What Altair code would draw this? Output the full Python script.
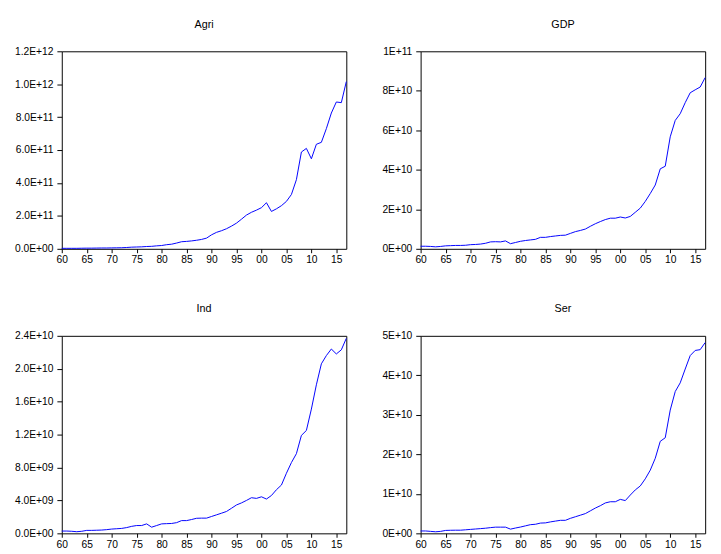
import altair as alt
import pandas as pd

years = list(range(1960, 2018))

# Values (units noted per series)
agri_e11 = [0.03, 0.03, 0.03, 0.03, 0.035, 0.04, 0.04, 0.045, 0.05, 0.05,
            0.055, 0.06, 0.065, 0.08, 0.1, 0.11, 0.12, 0.14, 0.15, 0.18,
            0.2, 0.25, 0.28, 0.35, 0.43, 0.45, 0.48, 0.52, 0.57, 0.65,
            0.85, 1.0, 1.1, 1.22, 1.38, 1.56, 1.8, 2.05, 2.22, 2.35,
            2.5, 2.8, 2.27, 2.43, 2.62, 2.88, 3.3, 4.2, 5.88, 6.1,
            5.47, 6.35, 6.47, 7.3, 8.25, 8.92, 8.88, 10.16]
gdp_e10 = [0.13, 0.13, 0.12, 0.10, 0.12, 0.15, 0.16, 0.17, 0.17, 0.18,
           0.21, 0.22, 0.24, 0.28, 0.35, 0.36, 0.35, 0.40, 0.26, 0.32,
           0.38, 0.42, 0.45, 0.48, 0.58, 0.58, 0.62, 0.65, 0.68, 0.69,
           0.78, 0.87, 0.93, 1.0, 1.14, 1.27, 1.38, 1.48, 1.55, 1.55,
           1.61, 1.56, 1.64, 1.85, 2.06, 2.4, 2.8, 3.23, 4.05, 4.18,
           5.67, 6.5, 6.84, 7.4, 7.9, 8.05, 8.19, 8.67]
ind_e9 = [0.28, 0.28, 0.25, 0.2, 0.25, 0.36, 0.36, 0.38, 0.4, 0.45,
          0.52, 0.56, 0.6, 0.7, 0.85, 0.95, 0.95, 1.15, 0.75, 0.95,
          1.15, 1.18, 1.2, 1.3, 1.55, 1.55, 1.68, 1.83, 1.85, 1.85,
          2.05, 2.25, 2.45, 2.66, 3.05, 3.45, 3.7, 4.0, 4.33, 4.25,
          4.44, 4.17, 4.6, 5.3, 5.87, 7.3, 8.6, 9.68, 11.9, 12.5,
          15.1, 18.05, 20.6, 21.6, 22.4, 21.8, 22.3, 23.7]
ser_e10 = [0.06, 0.06, 0.05, 0.04, 0.05, 0.074, 0.078, 0.08, 0.08, 0.09,
           0.1, 0.11, 0.12, 0.13, 0.145, 0.157, 0.157, 0.157, 0.107, 0.135,
           0.16, 0.19, 0.22, 0.23, 0.26, 0.265, 0.29, 0.31, 0.33, 0.33,
           0.38, 0.42, 0.46, 0.5, 0.57, 0.64, 0.7, 0.77, 0.8, 0.8,
           0.86, 0.83, 0.97, 1.1, 1.2, 1.38, 1.6, 1.9, 2.33, 2.42,
           3.12, 3.59, 3.81, 4.16, 4.5, 4.63, 4.65, 4.83]

x_ticks = list(range(1960, 2016, 5))
agri_ticks = [i * 200_000_000_000 for i in range(7)]
gdp_ticks = [i * 20_000_000_000 for i in range(6)]
ind_ticks = [i * 4_000_000_000 for i in range(7)]
ser_ticks = [i * 10_000_000_000 for i in range(6)]

FMT1 = r"replace(upper(format(datum.value, '.1e')), regexp('E\\+(\\d)$'), 'E+0$1')"
FMT0 = r"replace(upper(format(datum.value, '.0e')), regexp('E\\+(\\d)$'), 'E+0$1')"

W, H = 291, 202


def panel(title, vals, mult, ticks, fmt):
    df = pd.DataFrame({"year": years, "value": [v * mult for v in vals]})
    return alt.Chart(df).mark_line(color="#0000FF", strokeWidth=1).encode(
        x=alt.X("year:Q",
                scale=alt.Scale(domain=[1960, 2017], nice=False, zero=False),
                axis=alt.Axis(values=x_ticks, title=None, grid=False,
                              labelExpr="format(datum.value % 100, '02d')",
                              labelFlush=False, labelOverlap=False,
                              tickSize=4, labelPadding=2, domain=False)),
        y=alt.Y("value:Q",
                scale=alt.Scale(domain=[0, ticks[-1]], nice=False),
                axis=alt.Axis(values=ticks, title=None, grid=False,
                              labelExpr=fmt, labelFlush=False,
                              labelOverlap=False, tickSize=5,
                              labelPadding=4, domain=False)),
    ).properties(width=W, height=H,
                 title=alt.TitleParams(title, fontSize=11, fontWeight="normal",
                                       font="Liberation Sans", color="#000",
                                       offset=17))


top = alt.hconcat(panel("Agri", agri_e11, 1e11, agri_ticks, FMT1),
                  panel("GDP", gdp_e10, 1e10, gdp_ticks, FMT0), spacing=32)
bottom = alt.hconcat(panel("Ind", ind_e9, 1e9, ind_ticks, FMT1),
                     panel("Ser", ser_e10, 1e10, ser_ticks, FMT0), spacing=32)

chart = alt.vconcat(top, bottom, spacing=38).properties(
    padding={"top": 4, "left": 6, "right": 5, "bottom": 5}
).configure(
    background="white"
).configure_view(
    stroke="#000", strokeWidth=1
).configure_axis(
    labelFont="Liberation Sans", labelFontSize=10.5, labelColor="#000",
    tickColor="#000"
)

chart.save("out.html", embed_options={"renderer": "svg", "actions": False})
